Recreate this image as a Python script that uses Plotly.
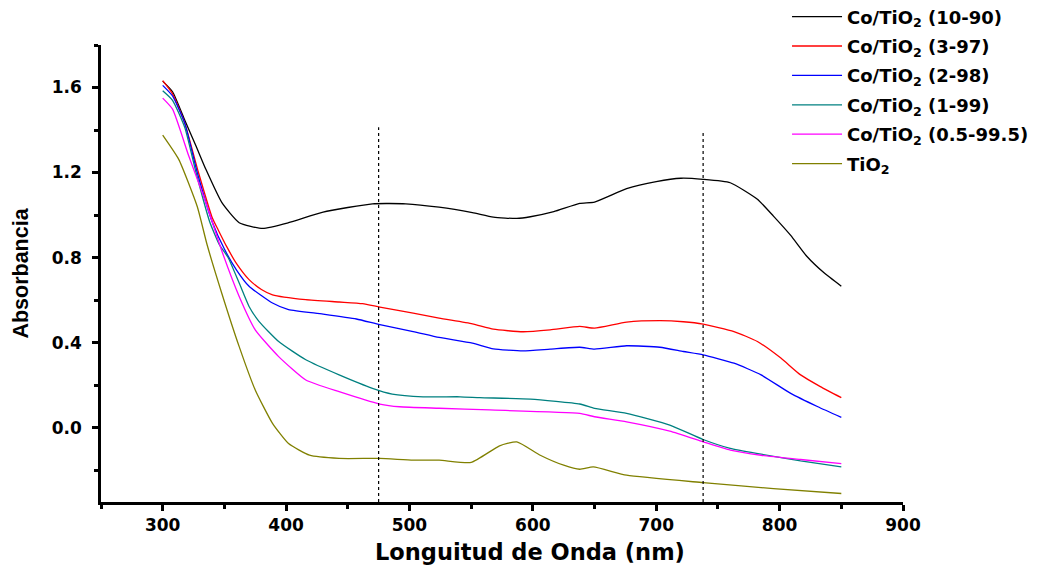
import plotly.graph_objects as go

# ---------------- data ----------------
names = ["Co/TiO<sub>2</sub> (10-90)", "Co/TiO<sub>2</sub> (3-97)", "Co/TiO<sub>2</sub> (2-98)",
         "Co/TiO<sub>2</sub> (1-99)", "Co/TiO<sub>2</sub> (0.5-99.5)", "TiO<sub>2</sub>"]
colors = ["#000000", "#FF0000", "#0000FF", "#008080", "#FF00FF", "#808000"]

x_1090 = [300, 308, 318, 327, 335, 348, 362, 381, 402, 430, 470, 497, 524, 551, 568, 587, 598, 617,
          638, 650, 676, 700, 720, 738, 760, 782, 795, 809, 822, 836, 850]
y_1090 = [1.63, 1.58, 1.445, 1.325, 1.215, 1.058, 0.964, 0.937, 0.964, 1.014, 1.053, 1.053, 1.037,
          1.011, 0.99, 0.984, 0.992, 1.016, 1.055, 1.061, 1.124, 1.157, 1.173, 1.168, 1.152, 1.074,
          0.995, 0.904, 0.806, 0.728, 0.665]

x_397 = [300, 308, 318, 329, 340, 345, 352, 360, 370, 380, 389, 416, 443, 462, 476, 503, 524, 551,
         568, 592, 614, 638, 650, 676, 703, 722, 738, 763, 782, 801, 817, 833, 850]
y_397 = [1.632, 1.57, 1.43, 1.2, 0.99, 0.93, 0.85, 0.77, 0.696, 0.65, 0.625, 0.602, 0.591, 0.583,
         0.567, 0.539, 0.515, 0.488, 0.463, 0.451, 0.46, 0.476, 0.468, 0.496, 0.503, 0.498, 0.487,
         0.452, 0.405, 0.327, 0.248, 0.193, 0.141]

x_298 = [300, 308, 318, 328, 340, 350, 360, 370, 389, 402, 430, 457, 476, 503, 524, 551, 568, 592,
         614, 638, 650, 676, 703, 722, 738, 763, 785, 809, 831, 850]
y_298 = [1.61, 1.56, 1.43, 1.2, 0.97, 0.84, 0.74, 0.665, 0.586, 0.555, 0.534, 0.511, 0.484, 0.452,
         0.424, 0.397, 0.37, 0.361, 0.369, 0.378, 0.369, 0.385, 0.378, 0.358, 0.342, 0.303, 0.248,
         0.161, 0.098, 0.048]

x_199 = [300, 308, 318, 327, 338, 346, 353, 362, 370, 378, 394, 416, 443, 470, 486, 511, 541, 557,
         598, 638, 650, 676, 711, 738, 760, 785, 817, 850]
y_199 = [1.585, 1.54, 1.41, 1.2, 0.97, 0.86, 0.8, 0.68, 0.57, 0.5, 0.405, 0.319, 0.248, 0.185,
         0.158, 0.145, 0.145, 0.141, 0.134, 0.111, 0.091, 0.067, 0.012, -0.056, -0.098, -0.125,
         -0.157, -0.185]

x_0599 = [300, 308, 321, 335, 348, 362, 375, 394, 416, 443, 476, 492, 524, 565, 638, 650, 676, 711,
          738, 760, 785, 817, 850]
y_0599 = [1.55, 1.498, 1.28, 1.058, 0.83, 0.617, 0.46, 0.334, 0.224, 0.169, 0.111, 0.098, 0.091,
          0.083, 0.067, 0.051, 0.027, -0.017, -0.067, -0.106, -0.13, -0.15, -0.169]

x_tio2 = [300, 313, 328, 336, 348, 362, 375, 389, 402, 419, 443, 476, 503, 524, 550, 573, 587, 606,
          625, 638, 649, 676, 738, 795, 850]
y_tio2 = [1.376, 1.262, 1.04, 0.86, 0.63, 0.381, 0.177, 0.02, -0.075, -0.13, -0.145, -0.145,
          -0.153, -0.153, -0.164, -0.086, -0.067, -0.13, -0.177, -0.196, -0.185, -0.224, -0.259,
          -0.287, -0.31]

series_x = [x_1090, x_397, x_298, x_199, x_0599, x_tio2]
series_y = [y_1090, y_397, y_298, y_199, y_0599, y_tio2]

# vertical reference lines (nm) and their top values
ref_x = [475, 738]
ref_top = [1.413, 1.389]
ref_bottom = -0.35

x_ticks = [300, 400, 500, 600, 700, 800, 900]
y_ticks = [0.0, 0.4, 0.8, 1.2, 1.6]

x_title = "Longuitud de Onda (nm)"
y_title = "Absorbancia"

# ---------------- figure ----------------
fig = go.Figure()
for i, (nm, c, xs, ys) in enumerate(zip(names, colors, series_x, series_y)):
    fig.add_trace(go.Scatter(x=xs, y=ys, mode="lines", name=nm, legendgroup=f"g{i}",
                             line=dict(color=c, width=1.3, shape="spline", smoothing=0.5)))

for rx, rt in zip(ref_x, ref_top):
    fig.add_trace(go.Scatter(x=[rx, rx], y=[ref_bottom, rt], mode="lines", showlegend=False,
                             line=dict(color="black", width=1.2, dash="3px,3px"), hoverinfo="skip"))

tickfont = dict(family="DejaVu Sans", size=17, color="black", weight="bold")

# page body has an 8px default margin -> figure sized to fill the 1045x573 window
fig.update_layout(
    width=1037, height=565,
    margin=dict(l=93, r=142, t=37, b=71, autoexpand=False),
    plot_bgcolor="white", paper_bgcolor="white",
    showlegend=True,
    legend=dict(xref="paper", yref="paper", x=0.8554, y=1.102,
                xanchor="left", yanchor="top", itemwidth=50,
                font=dict(family="DejaVu Sans", size=18, color="black", weight="bold"),
                tracegroupgap=3, bgcolor="rgba(0,0,0,0)", borderwidth=0),
    annotations=[
        dict(text=x_title, xref="paper", yref="paper", x=0.535, y=-0.109,
             xanchor="center", yanchor="middle", showarrow=False,
             font=dict(family="DejaVu Sans", size=22.5, color="black", weight="bold")),
    ],
)

fig.update_xaxes(
    range=[250, 900], showgrid=False, zeroline=False, automargin=False,
    showline=True, linecolor="black", linewidth=2.5,
    ticks="outside", ticklen=6, tickwidth=2.5, tickcolor="black",
    tickvals=x_ticks, ticktext=[str(v) for v in x_ticks],
    ticklabelstandoff=0,
    minor=dict(ticks="outside", ticklen=4, tickwidth=2.5, tickcolor="black", dtick=50, tick0=250),
    tickfont=tickfont,
)
fig.update_yaxes(
    range=[-0.35, 1.8], showgrid=False, zeroline=False, automargin=False,
    showline=True, linecolor="black", linewidth=2.5,
    ticks="outside", ticklen=6, tickwidth=2.5, tickcolor="black",
    tickvals=y_ticks, ticktext=[f"{v:.1f}" for v in y_ticks],
    ticklabelstandoff=7,
    minor=dict(ticks="outside", ticklen=4, tickwidth=2.5, tickcolor="black", dtick=0.2, tick0=-0.2),
    tickfont=tickfont,
    title=dict(text=y_title, standoff=18,
               font=dict(family="Liberation Sans", size=21.5, color="black", weight="bold")),
)

fig.write_html("out.html")
